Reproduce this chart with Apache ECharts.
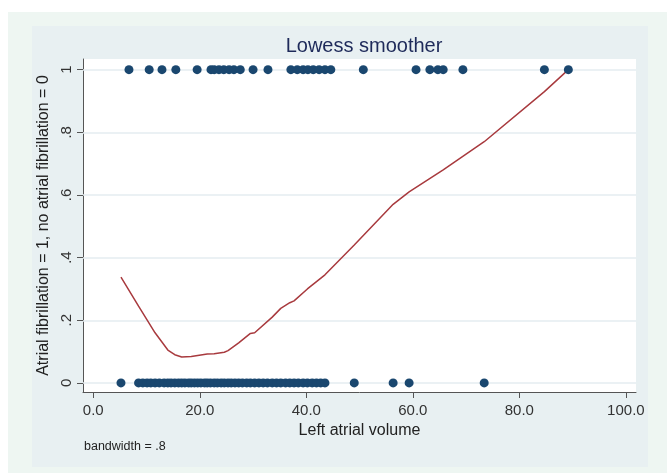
<!DOCTYPE html>
<html>
<head>
<meta charset="utf-8">
<title>Lowess smoother</title>
<script src="https://cdn.jsdelivr.net/npm/echarts@6/dist/echarts.min.js"></script>
<style>
  html, body { margin: 0; padding: 0; background: #fff; }
  #chart { width: 667px; height: 473px; }
</style>
</head>
<body>
<div id="chart"></div>
<script>
// left atrial volume of patients with atrial fibrillation (y = 1)
var afVolume = [6.7, 10.5, 12.9, 15.5, 19.5, 22.1, 22.7, 23.6, 24.5, 25.5, 26.4, 27.6,
  30.0, 32.8, 37.1, 38.3, 39.4, 40.3, 41.3, 42.4, 43.5, 44.6, 50.7, 60.6, 63.2, 64.7,
  65.7, 69.4, 84.7, 89.2];

// left atrial volume of patients without atrial fibrillation (y = 0)
var noAfVolume = [5.2, 8.5, 9.3, 10.1, 10.8, 11.6, 12.4, 13.3, 14.0, 14.6, 15.3, 16.0,
  16.6, 17.2, 17.9, 18.4, 19.0, 19.6, 20.2, 20.9, 21.4, 22.0, 22.7, 23.3, 24.0, 24.6,
  25.3, 25.9, 26.6, 27.3, 28.0, 28.8, 29.5, 30.3, 31.1, 31.9, 32.7, 33.6, 34.4, 35.2,
  36.1, 36.9, 37.7, 38.5, 39.4, 40.2, 41.1, 41.9, 42.7, 43.5, 49.0, 56.3, 59.3, 73.4];

// lowess curve
var lowessX = [5.2, 8.5, 11.6, 14.0, 15.3, 16.6, 18.4, 20.2, 21.4, 22.7, 24.6, 25.3,
  27.3, 29.5, 30.3, 33.6, 35.2, 36.9, 37.7, 40.2, 43.5, 49.0, 56.3, 59.3, 65.7, 73.4,
  84.7, 89.2];
var lowessY = [0.338, 0.245, 0.16, 0.105, 0.09, 0.083, 0.084, 0.089, 0.092, 0.093, 0.098,
  0.103, 0.128, 0.158, 0.16, 0.21, 0.238, 0.256, 0.262, 0.30, 0.345, 0.44, 0.57, 0.61,
  0.68, 0.77, 0.93, 1.0];

var xTicks = [0, 20, 40, 60, 80, 100];
var yTicks = [0, 0.2, 0.4, 0.6, 0.8, 1];

var chart = echarts.init(document.getElementById('chart'));

var pointData = afVolume.map(function (v) { return [v, 1]; })
  .concat(noAfVolume.map(function (v) { return [v, 0]; }));
var lineData = lowessX.map(function (v, i) { return [v, lowessY[i]]; });

var font = 'Liberation Sans, Arial, sans-serif';

var option = {
  animation: false,
  backgroundColor: '#ffffff',
  textStyle: { fontFamily: font },
  graphic: [
    { type: 'rect', z: -2, silent: true, shape: { x: 8, y: 12, width: 659, height: 461 }, style: { fill: '#eef6f2' } },
    { type: 'rect', z: -1, silent: true, shape: { x: 32, y: 26, width: 616, height: 441 }, style: { fill: '#e8f0f2' } },
    { type: 'text', left: 84, top: 440, silent: true,
      style: { text: 'bandwidth = .8', font: '12.5px ' + font, fill: '#222' } }
  ],
  title: {
    text: 'Lowess smoother',
    left: 359,
    top: 31,
    textAlign: 'center',
    textStyle: { fontSize: 20, fontWeight: 'normal', color: '#1e2a5a', fontFamily: font }
  },
  grid: {
    left: 83, top: 59, width: 553, height: 333,
    show: true, backgroundColor: '#ffffff', borderWidth: 0
  },
  xAxis: {
    type: 'value',
    min: -1.93,
    max: 101.9,
    name: 'Left atrial volume',
    nameLocation: 'middle',
    nameGap: 28,
    nameTextStyle: { fontSize: 16, color: '#222' },
    axisLine: { show: true, onZero: false, lineStyle: { color: '#555', width: 1 } },
    axisTick: { show: true, customValues: xTicks, length: 6, lineStyle: { color: '#555' } },
    axisLabel: {
      customValues: xTicks, fontSize: 15, color: '#333', margin: 11,
      formatter: function (v) { return v.toFixed(1); }
    },
    splitLine: { show: false }
  },
  yAxis: {
    type: 'value',
    min: -0.029,
    max: 1.034,
    name: 'Atrial fibrillation = 1, no atrial fibrillation = 0',
    nameLocation: 'middle',
    nameGap: 27,
    nameTextStyle: { fontSize: 16, color: '#222' },
    axisLine: { show: true, onZero: false, lineStyle: { color: '#555', width: 1 } },
    axisTick: { show: true, customValues: yTicks, length: 6, lineStyle: { color: '#555' } },
    axisLabel: {
      customValues: yTicks, fontSize: 15, color: '#333', margin: 9, rotate: 90,
      formatter: function (v) {
        if (Math.abs(v) < 1e-9) return '0';
        if (Math.abs(v - 1) < 1e-9) return '1';
        return String(+v.toFixed(1)).replace(/^0/, '');
      }
    },
    splitLine: { show: false }
  },
  series: [
    {
      name: 'grid',
      type: 'line',
      data: [],
      z: 1,
      markLine: {
        silent: true,
        z: 1,
        symbol: ['none', 'none'],
        label: { show: false },
        lineStyle: { color: '#e4edf0', type: 'solid', width: 1.5 },
        data: yTicks.map(function (v) { return { yAxis: v }; })
      }
    },
    {
      name: 'lowess',
      type: 'line',
      data: lineData,
      z: 6,
      showSymbol: false,
      smooth: false,
      lineStyle: { color: '#a83a3e', width: 1.5 }
    },
    {
      name: 'observed',
      type: 'scatter',
      data: pointData,
      z: 7,
      symbolSize: 9,
      itemStyle: { color: '#1a476f', opacity: 1 }
    }
  ]
};

chart.setOption(option);
</script>
</body>
</html>
